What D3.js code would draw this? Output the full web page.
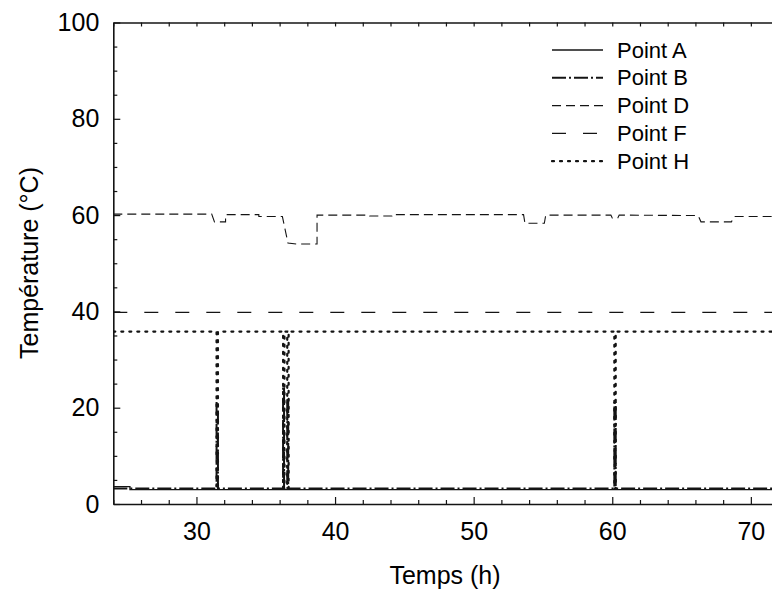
<!DOCTYPE html>
<html>
<head>
<meta charset="utf-8">
<script src="https://cdn.jsdelivr.net/npm/d3@7"></script>
<style>
  body { margin: 0; background: #fff; }
  svg { display: block; font-family: "Liberation Sans", Arial, sans-serif; }
</style>
</head>
<body>
<script>
// data (hours, °C)
var hoursA = [24, 25.2, 25.2, 72];
var tempA  = [3.6, 3.6, 3.0, 3.0];

var hoursB = [24, 31.45, 31.45, 31.55, 31.55, 36.25, 36.25, 36.32, 36.32, 36.55, 36.55, 36.62, 36.62, 60.15, 60.15, 60.25, 60.25, 72];
var tempB  = [3.2, 3.2, 21, 21, 3.2, 3.2, 24, 24, 3.2, 3.2, 22, 22, 3.2, 3.2, 21, 21, 3.2, 3.2];

var hoursD = [24, 31.1, 31.3, 32.1, 32.1, 34.5, 34.5, 36.2, 36.6, 37.2, 38.7, 38.7, 42.5, 42.5, 44.1, 44.1, 53.6, 53.7, 55.1, 55.2, 59.9, 60.0, 60.4, 60.5, 66.2, 66.4, 68.6, 68.8, 72];
var tempD  = [60.2, 60.2, 58.6, 58.6, 60.1, 60.1, 59.7, 59.7, 54.2, 54.0, 54.0, 60.0, 60.0, 59.8, 59.8, 60.1, 60.1, 58.3, 58.3, 60.0, 60.0, 59.4, 59.4, 60.0, 59.9, 58.6, 58.6, 59.7, 59.7];

var hoursF = [24, 72];
var tempF  = [39.8, 39.8];

var hoursH = [24, 31.45, 31.45, 31.55, 31.55, 36.25, 36.25, 36.35, 36.35, 36.55, 36.55, 36.65, 36.65, 60.15, 60.15, 60.25, 60.25, 72];
var tempH  = [35.8, 35.8, 3.2, 3.2, 35.8, 35.8, 3.2, 3.2, 35.8, 35.8, 3.2, 3.2, 35.8, 35.8, 3.2, 3.2, 35.8, 35.8];

var seriesNames = ["Point A", "Point B", "Point D", "Point F", "Point H"];
var xTicks = [30, 40, 50, 60, 70];
var yTicks = [0, 20, 40, 60, 80, 100];

// layout
var width = 772, height = 593;
var plotLeft = 113.3, plotTop = 22.5, plotBottom = 504;

var svg = d3.select("body").append("svg")
  .attr("width", width)
  .attr("height", height);

var x = d3.scaleLinear().domain([24, 72]).range([plotLeft, plotLeft + 48 * 13.86]);
var y = d3.scaleLinear().domain([0, 100]).range([plotBottom, plotTop]);

var ink = "#141414";
var styles = [
  { dash: null,            w: 1.3 },
  { dash: "14,3,2,3",      w: 2.0 },
  { dash: "9,5",           w: 1.1 },
  { dash: "14,17",         w: 1.2 },
  { dash: "2,6",           w: 2.2 }
];
var series = [
  [hoursA, tempA], [hoursB, tempB], [hoursD, tempD], [hoursF, tempF], [hoursH, tempH]
];

svg.append("clipPath").attr("id", "plot")
  .append("rect").attr("x", plotLeft).attr("y", plotTop)
  .attr("width", width - plotLeft).attr("height", plotBottom - plotTop);

var line = d3.line()
  .x(function(d) { return x(d[0]); })
  .y(function(d) { return y(d[1]); });

var g = svg.append("g").attr("clip-path", "url(#plot)");
series.forEach(function(s, i) {
  var pts = s[0].map(function(h, k) { return [h, s[1][k]]; });
  g.append("path")
    .datum(pts)
    .attr("d", line)
    .attr("fill", "none")
    .attr("stroke", ink)
    .attr("stroke-width", styles[i].w)
    .attr("stroke-dasharray", styles[i].dash)
    .attr("stroke-linecap", i == 4 ? "round" : "butt");
});

// axes (ticks pointing inward)
var xMinor = d3.range(24, 73, 2).filter(function(v) { return v % 10 != 0; });
var yMinor = d3.range(0, 101, 5).filter(function(v) { return v % 20 != 0; });

svg.append("g").attr("transform", "translate(0," + plotBottom + ")")
  .call(d3.axisBottom(x).tickValues(xMinor).tickSize(-4).tickFormat(""))
  .call(function(a) { a.select(".domain").remove(); });
svg.append("g").attr("transform", "translate(0," + plotBottom + ")")
  .call(d3.axisBottom(x).tickValues(xTicks).tickSize(-7).tickPadding(18).tickSizeOuter(0))
  .style("font-size", "25px");
svg.append("g").attr("transform", "translate(0," + plotTop + ")")
  .call(d3.axisTop(x).tickValues(xMinor.concat(xTicks)).tickSize(-4).tickFormat("").tickSizeOuter(0));

svg.append("g").attr("transform", "translate(" + plotLeft + ",0)")
  .call(d3.axisLeft(y).tickValues(yMinor).tickSize(-4).tickFormat(""))
  .call(function(a) { a.select(".domain").remove(); });
svg.append("g").attr("transform", "translate(" + plotLeft + ",0)")
  .call(d3.axisLeft(y).tickValues(yTicks).tickSize(-7).tickPadding(14).tickSizeOuter(0))
  .style("font-size", "25px");

svg.selectAll(".domain").attr("stroke", ink).attr("stroke-width", 1.6);
svg.selectAll(".tick line").attr("stroke", ink).attr("stroke-width", 1.2);
svg.selectAll(".tick text").attr("fill", "#000").style("font-family", "'Liberation Sans', Arial, sans-serif");

// titles
svg.append("text")
  .attr("x", 445).attr("y", 584)
  .attr("text-anchor", "middle")
  .style("font-size", "25px")
  .text("Temps (h)");
svg.append("text")
  .attr("transform", "translate(38,263) rotate(-90)")
  .attr("text-anchor", "middle")
  .style("font-size", "25px")
  .text("Température (°C)");

// legend
var legend = svg.append("g");
seriesNames.forEach(function(name, i) {
  var ly = 50 + i * 27.8;
  legend.append("line")
    .attr("x1", 552).attr("x2", 603).attr("y1", ly).attr("y2", ly)
    .attr("stroke", ink)
    .attr("stroke-width", styles[i].w)
    .attr("stroke-dasharray", styles[i].dash)
    .attr("stroke-linecap", i == 4 ? "round" : "butt");
  legend.append("text")
    .attr("x", 617).attr("y", ly + 7.5)
    .style("font-size", "22px")
    .text(name);
});
</script>
</body>
</html>
